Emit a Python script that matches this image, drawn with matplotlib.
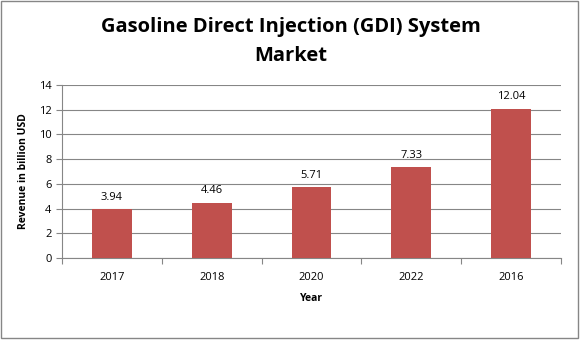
import matplotlib
matplotlib.use('Agg')
import matplotlib.pyplot as plt
from matplotlib.patches import Rectangle

years = ['2017', '2018', '2020', '2022', '2016']
revenue = [3.94, 4.46, 5.71, 7.33, 12.04]

plt.rcParams['font.family'] = ['Open Sans', 'DejaVu Sans']
grey = '#868686'

fig = plt.figure(figsize=(5.82, 3.4), dpi=100)
ax = fig.add_axes([62/582, 1 - 258/340, (561-62)/582, (258-85)/340])

x = range(len(years))
bars = ax.bar(x, revenue, width=0.4, color='#C0504D', zorder=3)
for xi, v in zip(x, revenue):
    ax.text(xi, v + 0.55, '%.2f' % v, ha='center', va='bottom', fontsize=8)

ax.set_xlim(-0.5, len(years) - 0.5)
ax.set_ylim(0, 14)
ax.set_yticks(range(0, 15, 2))
ax.set_xticks([i - 0.5 for i in range(len(years) + 1)], minor=False)
ax.set_xticklabels([])
ax.set_xticks(list(x), minor=True)
ax.set_xticklabels(years, minor=True)
ax.tick_params(axis='x', which='minor', length=0, labelsize=8, pad=10)
ax.tick_params(axis='x', which='major', length=4, color=grey)
ax.tick_params(axis='y', length=4, color=grey, labelsize=8)
ax.yaxis.grid(True, color=grey, linewidth=0.8, zorder=0)

for side in ['top', 'right']:
    ax.spines[side].set_visible(False)
for side in ['left', 'bottom']:
    ax.spines[side].set_color(grey)

ax.set_ylabel('Revenue in billion USD', fontsize=7.5, fontweight='bold', labelpad=7)
ax.set_xlabel('Year', fontsize=7.5, fontweight='bold', labelpad=7)

fig.text(0.5, 0.95, 'Gasoline Direct Injection (GDI) System\nMarket',
         ha='center', va='top', fontsize=14.5, fontweight='bold', linespacing=1.6)

fig.patches.append(Rectangle((0.5/582, 2/340), 577/582, 337/340, transform=fig.transFigure,
                             fill=False, edgecolor=grey, linewidth=1))

fig.savefig('out.png', dpi=100)
